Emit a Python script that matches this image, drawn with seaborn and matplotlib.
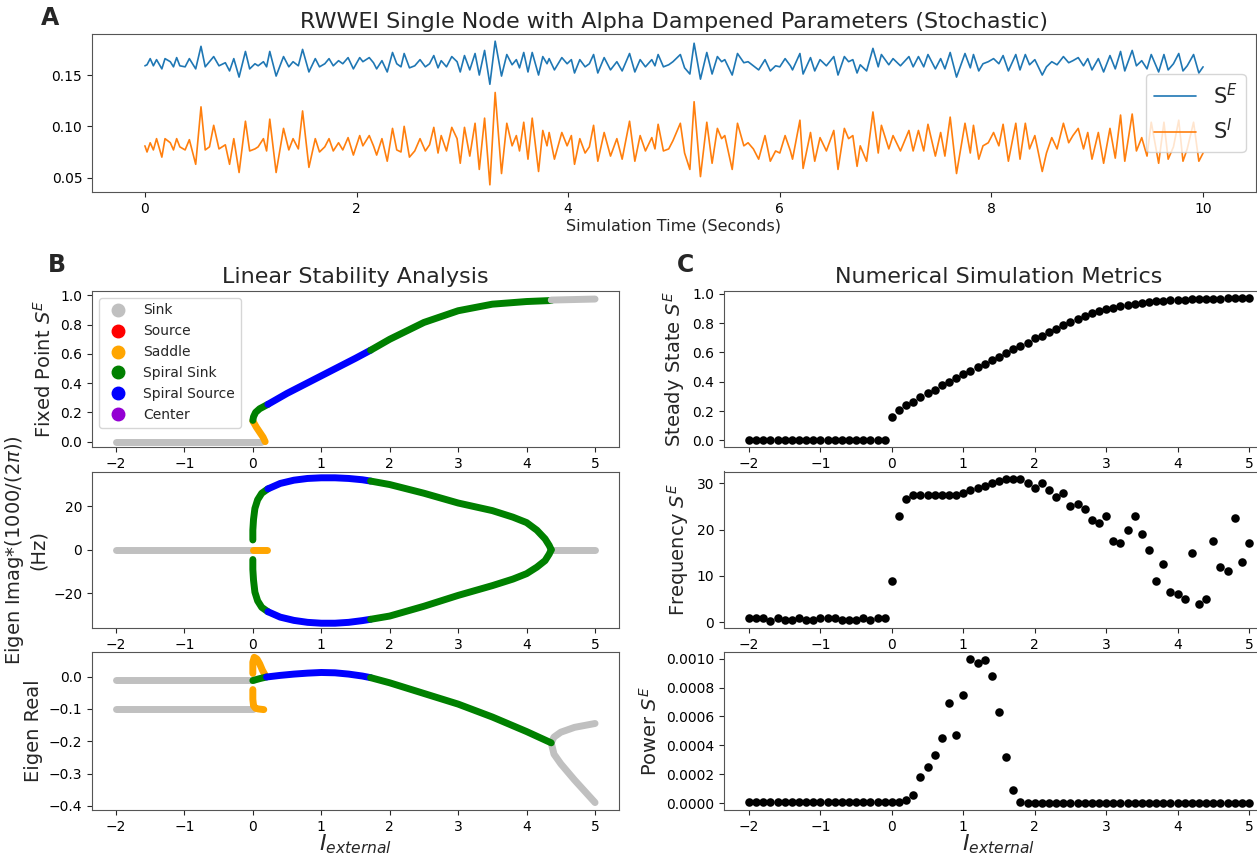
import numpy as np
import matplotlib
matplotlib.use("Agg")
import matplotlib.pyplot as plt
from matplotlib.lines import Line2D
import seaborn as sns

# ---------------- data ----------------

# panel A: peaks / troughs of the stochastic run (time in s, S values x 1000)
time_s = [0.00, 0.02, 0.05, 0.08, 0.11, 0.16, 0.19, 0.24, 0.27, 0.30, 0.33, 0.38, 0.42, 0.48, 0.53,
          0.57, 0.61, 0.65, 0.70, 0.76, 0.80, 0.84, 0.89, 0.95, 0.99, 1.04, 1.07, 1.12, 1.15, 1.18,
          1.24, 1.31, 1.36, 1.40, 1.45, 1.49, 1.55, 1.61, 1.65, 1.70, 1.74, 1.78, 1.83, 1.87, 1.92,
          1.97, 2.03, 2.06, 2.12, 2.16, 2.19, 2.24, 2.29, 2.34, 2.38, 2.42, 2.45, 2.50, 2.55, 2.60,
          2.65, 2.69, 2.73, 2.77, 2.80, 2.85, 2.90, 2.95, 2.98, 3.02, 3.07, 3.12, 3.16, 3.21, 3.26,
          3.31, 3.37, 3.42, 3.47, 3.51, 3.54, 3.58, 3.62, 3.66, 3.72, 3.76, 3.80, 3.82, 3.87, 3.94,
          3.99, 4.03, 4.06, 4.11, 4.16, 4.20, 4.24, 4.28, 4.34, 4.40, 4.46, 4.51, 4.58, 4.63, 4.68,
          4.73, 4.79, 4.82, 4.85, 4.90, 4.95, 4.99, 5.06, 5.10, 5.15, 5.19, 5.25, 5.31, 5.36, 5.41,
          5.45, 5.48, 5.55, 5.60, 5.66, 5.70, 5.75, 5.80, 5.86, 5.91, 5.96, 6.00, 6.05, 6.10, 6.12,
          6.19, 6.22, 6.29, 6.33, 6.38, 6.44, 6.51, 6.55, 6.61, 6.65, 6.69, 6.73, 6.76, 6.82, 6.88,
          6.93, 6.96, 7.03, 7.07, 7.14, 7.22, 7.26, 7.31, 7.36, 7.40, 7.47, 7.52, 7.56, 7.61, 7.67,
          7.75, 7.80, 7.83, 7.88, 7.92, 7.97, 8.02, 8.07, 8.11, 8.16, 8.23, 8.27, 8.32, 8.36, 8.41,
          8.48, 8.52, 8.57, 8.62, 8.68, 8.73, 8.77, 8.82, 8.87, 8.91, 8.95, 9.01, 9.06, 9.12, 9.17,
          9.22, 9.26, 9.33, 9.37, 9.42, 9.47, 9.51, 9.58, 9.63, 9.67, 9.72, 9.77, 9.81, 9.85, 9.91,
          9.96, 10.00]
se_milli = [159, 160, 166, 159, 165, 156, 166, 163, 158, 167, 159, 158, 166, 156, 178,
            158, 163, 168, 159, 162, 154, 166, 148, 173, 156, 161, 159, 163, 158, 173,
            149, 168, 158, 163, 159, 175, 153, 166, 158, 161, 166, 159, 164, 161, 167,
            156, 167, 163, 167, 162, 156, 164, 153, 172, 161, 158, 171, 157, 159, 165,
            158, 161, 169, 157, 164, 158, 168, 163, 153, 169, 155, 171, 150, 174, 141,
            183, 149, 170, 160, 165, 157, 172, 153, 172, 150, 168, 161, 166, 155, 167,
            161, 165, 152, 165, 158, 161, 170, 152, 167, 155, 163, 154, 171, 153, 165,
            158, 165, 159, 170, 158, 160, 163, 170, 157, 151, 181, 146, 172, 151, 168,
            163, 165, 150, 171, 162, 163, 159, 155, 165, 154, 159, 158, 166, 159, 155,
            171, 151, 167, 154, 165, 159, 168, 150, 168, 163, 165, 152, 160, 154, 176,
            158, 170, 160, 166, 159, 168, 158, 168, 158, 170, 156, 166, 156, 172, 148,
            171, 157, 170, 154, 161, 163, 166, 161, 169, 154, 170, 155, 170, 160, 165,
            150, 158, 163, 160, 168, 162, 164, 167, 159, 166, 155, 166, 153, 169, 156,
            173, 154, 174, 159, 164, 156, 170, 153, 170, 155, 161, 171, 154, 159, 170,
            152, 158]
si_milli = [81, 75, 84, 77, 88, 70, 88, 84, 77, 88, 80, 77, 87, 63, 119,
            77, 80, 101, 78, 82, 63, 88, 55, 105, 76, 78, 80, 88, 76, 107,
            55, 98, 77, 88, 78, 115, 60, 88, 75, 80, 88, 76, 84, 77, 89,
            72, 91, 81, 91, 81, 72, 88, 66, 98, 77, 75, 100, 70, 76, 88,
            76, 82, 99, 74, 91, 76, 99, 88, 64, 99, 71, 103, 58, 108, 43,
            133, 54, 103, 81, 91, 76, 104, 68, 108, 56, 96, 81, 94, 68, 94,
            81, 91, 63, 88, 74, 80, 101, 66, 94, 71, 88, 68, 105, 66, 91,
            76, 89, 78, 102, 76, 78, 86, 103, 74, 58, 124, 51, 104, 64, 98,
            88, 91, 58, 103, 81, 84, 78, 68, 91, 66, 76, 74, 91, 76, 68,
            106, 59, 94, 66, 89, 76, 96, 58, 98, 88, 91, 61, 81, 66, 114,
            74, 101, 78, 91, 76, 96, 76, 96, 76, 102, 71, 94, 71, 109, 54,
            103, 74, 101, 68, 81, 84, 94, 81, 102, 66, 103, 68, 103, 78, 91,
            56, 74, 89, 78, 103, 84, 91, 98, 78, 94, 68, 94, 64, 98, 69,
            111, 66, 112, 76, 89, 71, 104, 64, 104, 68, 80, 106, 66, 78, 104,
            66, 74]

# panel B: linear stability branches (stability type, I_external, value)
stability_colors = {'Sink': 'silver', 'Source': 'red', 'Saddle': 'orange',
                    'Spiral Sink': 'green', 'Spiral Source': 'blue', 'Center': 'darkviolet'}

fixed_point_branches = [
    ('Sink', [-2.0, 0.12], [0.0, 0.0]),
    ('Saddle', [0.18, 0.15, 0.10, 0.05, 0.02, 0.0], [0.0, 0.03, 0.065, 0.10, 0.125, 0.14]),
    ('Spiral Sink', [0.0, 0.01, 0.04, 0.10, 0.22], [0.145, 0.17, 0.20, 0.225, 0.255]),
    ('Spiral Source', [0.22, 0.5, 1.0, 1.5, 1.72], [0.255, 0.33, 0.45, 0.57, 0.625]),
    ('Spiral Sink', [1.72, 2.0, 2.5, 3.0, 3.5, 4.0, 4.36], [0.625, 0.70, 0.815, 0.895, 0.94, 0.958, 0.965]),
    ('Sink', [4.36, 5.0], [0.968, 0.975]),
]

eigen_imag_branches = [
    ('Sink', [-2.0, 0.0], [0.0, 0.0]),
    ('Sink', [4.36, 5.0], [0.0, 0.0]),
    ('Saddle', [0.0, 0.2], [0.0, 0.0]),
    ('Spiral Sink', [0.0, 0.0, 0.01, 0.03, 0.07, 0.13, 0.22], [4.5, 9, 14, 19, 23, 26, 28]),
    ('Spiral Source', [0.22, 0.4, 0.6, 0.8, 1.0, 1.2, 1.4, 1.6, 1.72],
     [28, 30.5, 32, 32.8, 33.1, 33.1, 32.8, 32.2, 31.6]),
    ('Spiral Sink', [1.72, 2.0, 2.5, 3.0, 3.5, 3.8, 4.0, 4.15, 4.27, 4.33, 4.36],
     [31.6, 30, 26, 21.5, 18, 15, 12.5, 9, 5, 2, 0]),
    ('Spiral Sink', [0.0, 0.0, 0.01, 0.03, 0.07, 0.13, 0.22], [-4.5, -9, -14, -19.5, -23.5, -26.5, -28.5]),
    ('Spiral Source', [0.22, 0.4, 0.6, 0.8, 1.0, 1.2, 1.4, 1.6, 1.72],
     [-28.5, -31, -32.5, -33.4, -33.8, -33.8, -33.4, -32.6, -32]),
    ('Spiral Sink', [1.72, 2.0, 2.5, 3.0, 3.5, 3.8, 4.0, 4.15, 4.27, 4.33, 4.36],
     [-32, -30.5, -26, -21, -16.5, -13.5, -11, -8, -5, -2, 0]),
]

eigen_real_branches = [
    ('Sink', [-2.0, 0.0], [-0.01, -0.01]),
    ('Sink', [-2.0, 0.0], [-0.1, -0.1]),
    ('Sink', [4.36, 4.4, 4.5, 4.7, 5.0], [-0.205, -0.187, -0.172, -0.157, -0.145]),
    ('Sink', [4.36, 4.4, 4.5, 4.7, 5.0], [-0.205, -0.24, -0.27, -0.32, -0.39]),
    ('Saddle', [0.0, 0.0, 0.01, 0.04, 0.08, 0.12, 0.16], [-0.04, -0.07, -0.09, -0.098, -0.1, -0.101, -0.102]),
    ('Saddle', [0.0, 0.0, 0.02, 0.06, 0.10, 0.14, 0.18], [0.01, 0.045, 0.06, 0.055, 0.04, 0.02, 0.005]),
    ('Spiral Sink', [0.0, 0.1, 0.2], [-0.012, -0.006, -0.001]),
    ('Spiral Source', [0.2, 0.4, 0.6, 0.8, 1.0, 1.2, 1.4, 1.6, 1.72],
     [-0.001, 0.004, 0.008, 0.011, 0.013, 0.012, 0.008, 0.002, -0.003]),
    ('Spiral Sink', [1.72, 2.0, 2.5, 3.0, 3.5, 4.0, 4.36], [-0.003, -0.019, -0.052, -0.085, -0.125, -0.17, -0.205]),
]

# panel C: numerical simulation metrics, one value per I_external step of 0.1
i_external = np.round(np.arange(-2.0, 5.05, 0.1), 1)
steady_state = [0.0] * 20 + [
    0.16, 0.21, 0.24, 0.265, 0.295, 0.32, 0.345, 0.375, 0.40, 0.425,
    0.45, 0.47, 0.50, 0.52, 0.545, 0.57, 0.595, 0.62, 0.645, 0.665,
    0.695, 0.715, 0.74, 0.76, 0.785, 0.81, 0.83, 0.85, 0.87, 0.885,
    0.895, 0.905, 0.915, 0.925, 0.93, 0.94, 0.945, 0.95, 0.952, 0.955,
    0.958, 0.96, 0.962, 0.964, 0.965, 0.966, 0.967, 0.968, 0.969, 0.969, 0.97]
frequency = [1.0, 1.0, 1.0, 0.3, 1.0, 0.5, 0.5, 1.0, 0.5, 0.5,
             1.0, 1.0, 1.0, 0.5, 0.5, 0.5, 1.0, 0.5, 1.0, 1.0,
             9, 23, 26.5, 27.5, 27.5, 27.5, 27.5, 27.5, 27.5, 27.5,
             28, 28.5, 29, 29.5, 30, 30.5, 31, 31, 31, 30,
             29, 30, 28.5, 27, 28, 25, 25.5, 24.5, 22, 21.5,
             23, 17.5, 17, 20, 23, 19, 15.5, 9, 12.5, 6.5,
             6, 5, 15, 4, 5, 17.5, 12, 11, 22.5, 13, 17]
power = [0.000005] * 20 + [
    0.000008, 0.00001, 0.00002, 0.000055, 0.00018, 0.00025, 0.00033, 0.00045, 0.00069, 0.00047,
    0.00075, 0.0010, 0.00097, 0.00099, 0.00088, 0.00063, 0.00032, 0.00009, 0.000005] + [0.000002] * 32

# ---------------- figure ----------------
sns.set_style('ticks')
plt.rcParams['font.family'] = ['DejaVu Sans']
plt.rcParams['axes.edgecolor'] = '#555555'
plt.rcParams['xtick.labelsize'] = 10
plt.rcParams['ytick.labelsize'] = 10
plt.rcParams['xtick.labelcolor'] = 'black'
plt.rcParams['ytick.labelcolor'] = 'black'

W, H = 1257, 858
fig = plt.figure(figsize=(W / 100, H / 100), dpi=100)


def box(left, top, right, bottom):
    return [left / W, 1 - bottom / H, (right - left) / W, (bottom - top) / H]


ax_a = fig.add_axes(box(92, 34, 1256, 192))
rows = [(291, 447.5), (471.5, 628), (651.5, 810)]
axes_b = [fig.add_axes(box(92, t, 619, b)) for t, b in rows]
axes_c = [fig.add_axes(box(724, t, 1274, b)) for t, b in rows]

# panel A
t = np.array(time_s)
sns.lineplot(x=t, y=np.array(se_milli) / 1000, ax=ax_a, color='#1f77b4', lw=1.2, label='S$^E$')
sns.lineplot(x=t, y=np.array(si_milli) / 1000, ax=ax_a, color='#ff7f0e', lw=1.2, label='S$^I$')
ax_a.set_xticks([0, 2, 4, 6, 8, 10])
ax_a.set_yticks([0.05, 0.10, 0.15])
ax_a.yaxis.set_major_formatter(matplotlib.ticker.FormatStrFormatter('%.2f'))
ax_a.set_xlabel('Simulation Time (Seconds)', fontsize=11.5, labelpad=2)
ax_a.set_title('RWWEI Single Node with Alpha Dampened Parameters (Stochastic)', fontsize=16, pad=4)
ax_a.legend(loc='center right', fontsize=15)

# panel B
for ax, branches in zip(axes_b, [fixed_point_branches, eigen_imag_branches, eigen_real_branches]):
    for kind, xs, ys in branches:
        sns.lineplot(x=xs, y=ys, ax=ax, sort=False, estimator=None, color=stability_colors[kind],
                     lw=5, solid_capstyle='round', legend=False)
    ax.set_xticks([-2, -1, 0, 1, 2, 3, 4, 5])
    ax.set_xlim(-2.35, 5.35)

axes_b[0].set_ylim(-0.04, 1.03)
axes_b[0].set_yticks([0.0, 0.2, 0.4, 0.6, 0.8, 1.0])
axes_b[0].set_ylabel('Fixed Point $S^E$', fontsize=14)
axes_b[0].set_title('Linear Stability Analysis', fontsize=16, pad=6)
handles = [Line2D([], [], marker='o', ls='none', color=c, markersize=9) for c in stability_colors.values()]
axes_b[0].legend(handles, list(stability_colors.keys()), loc='upper left', fontsize=10)

axes_b[1].set_ylim(-36, 36)
axes_b[1].set_yticks([-20, 0, 20])
axes_b[1].set_ylabel('Eigen Imag*(1000/(2$\\pi$))\n(Hz)', fontsize=14)

axes_b[2].set_ylim(-0.413, 0.078)
axes_b[2].set_yticks([0.0, -0.1, -0.2, -0.3, -0.4])
axes_b[2].set_ylabel('Eigen Real', fontsize=14)
axes_b[2].set_xlabel('$I_{external}$', fontsize=16, labelpad=-1)

# panel C
for ax, vals in zip(axes_c, [steady_state, frequency, power]):
    sns.scatterplot(x=i_external, y=vals, ax=ax, color='black', s=38, linewidth=0)
    ax.set_xticks([-2, -1, 0, 1, 2, 3, 4, 5])
    ax.set_xlim(-2.35, 5.35)

axes_c[0].set_yticks([0.0, 0.2, 0.4, 0.6, 0.8, 1.0])
axes_c[0].set_ylabel('Steady State $S^E$', fontsize=14)
axes_c[0].set_title('Numerical Simulation Metrics', fontsize=16, pad=6)
axes_c[1].set_yticks([0, 10, 20, 30])
axes_c[1].set_ylabel('Frequency $S^E$', fontsize=14)
axes_c[2].set_yticks([0.0, 0.0002, 0.0004, 0.0006, 0.0008, 0.0010])
axes_c[2].yaxis.set_major_formatter(matplotlib.ticker.FormatStrFormatter('%.4f'))
axes_c[2].set_ylabel('Power $S^E$', fontsize=14)
axes_c[2].set_xlabel('$I_{external}$', fontsize=16, labelpad=-1)

# panel letters
fig.text(50 / W, 1 - 18 / H, 'A', fontsize=17, fontweight='bold', va='center', ha='center')
fig.text(57 / W, 1 - 265 / H, 'B', fontsize=17, fontweight='bold', va='center', ha='center')
fig.text(686 / W, 1 - 265 / H, 'C', fontsize=17, fontweight='bold', va='center', ha='center')

fig.savefig('out.png', dpi=100)
